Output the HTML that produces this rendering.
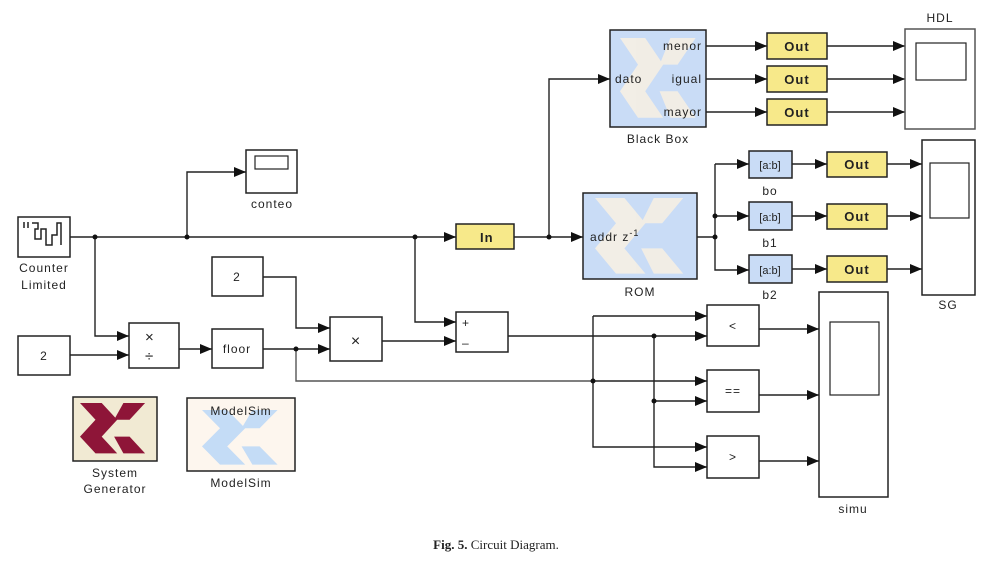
<!DOCTYPE html>
<html><head><meta charset="utf-8"><style>
html,body{margin:0;padding:0;background:#fff;}
svg{display:block}
text{font-family:"Liberation Sans",sans-serif;font-size:12px;fill:#222;letter-spacing:1px}
</style></head><body>
<svg width="992" height="570" viewBox="0 0 992 570" xmlns="http://www.w3.org/2000/svg">
<defs>
<marker id="a" markerWidth="12" markerHeight="10" refX="12" refY="5" orient="auto" markerUnits="userSpaceOnUse">
<path d="M0,0 L12,5 L0,10 Z" fill="#111"/></marker>
<g id="xl">
<polygon points="0,0 14,0 24,14 14,28 24,42 10,42 0,28 10,14" />
<polygon points="28,0 42,0 32,14 22,14" />
<polygon points="22,28 32,28 42,42 28,42" />
</g>
</defs>
<g fill="none" stroke="#222" stroke-width="1.4">
<line x1="70" y1="237" x2="456" y2="237" marker-end="url(#a)"/>
<polyline points="187,237 187,172 246,172" marker-end="url(#a)"/>
<polyline points="95,237 95,336 129,336" marker-end="url(#a)"/>
<line x1="70" y1="355" x2="129" y2="355" marker-end="url(#a)"/>
<line x1="179" y1="349" x2="212" y2="349" marker-end="url(#a)"/>
<polyline points="263,277 296,277 296,328 330,328" marker-end="url(#a)"/>
<line x1="263" y1="349" x2="330" y2="349" marker-end="url(#a)"/>
<polyline points="296,349 296,381 593,381" stroke="#555"/>
<polyline points="415,237 415,322 456,322" marker-end="url(#a)"/>
<line x1="382" y1="341" x2="456" y2="341" marker-end="url(#a)"/>
<line x1="508" y1="336" x2="707" y2="336" marker-end="url(#a)"/>
<polyline points="593,316 593,447 707,447" marker-end="url(#a)"/>
<line x1="593" y1="316" x2="707" y2="316" marker-end="url(#a)"/>
<line x1="593" y1="381" x2="707" y2="381" marker-end="url(#a)"/>
<polyline points="654,336 654,467 707,467" marker-end="url(#a)"/>
<line x1="654" y1="401" x2="707" y2="401" marker-end="url(#a)"/>
<line x1="759" y1="329" x2="819" y2="329" marker-end="url(#a)"/>
<line x1="759" y1="395" x2="819" y2="395" marker-end="url(#a)"/>
<line x1="759" y1="461" x2="819" y2="461" marker-end="url(#a)"/>
<line x1="514" y1="237" x2="583" y2="237" marker-end="url(#a)"/>
<polyline points="549,237 549,79 610,79" marker-end="url(#a)"/>
<line x1="706" y1="46" x2="767" y2="46" marker-end="url(#a)"/>
<line x1="706" y1="79" x2="767" y2="79" marker-end="url(#a)"/>
<line x1="706" y1="112" x2="767" y2="112" marker-end="url(#a)"/>
<line x1="827" y1="46" x2="905" y2="46" marker-end="url(#a)"/>
<line x1="827" y1="79" x2="905" y2="79" marker-end="url(#a)"/>
<line x1="827" y1="112" x2="905" y2="112" marker-end="url(#a)"/>
<line x1="697" y1="237" x2="715" y2="237"/>
<polyline points="715,164 715,270 749,270" marker-end="url(#a)"/>
<line x1="715" y1="164" x2="749" y2="164" marker-end="url(#a)"/>
<line x1="715" y1="216" x2="749" y2="216" marker-end="url(#a)"/>
<line x1="792" y1="164" x2="827" y2="164" marker-end="url(#a)"/>
<line x1="792" y1="216" x2="827" y2="216" marker-end="url(#a)"/>
<line x1="792" y1="269" x2="827" y2="269" marker-end="url(#a)"/>
<line x1="887" y1="164" x2="922" y2="164" marker-end="url(#a)"/>
<line x1="887" y1="216" x2="922" y2="216" marker-end="url(#a)"/>
<line x1="887" y1="269" x2="922" y2="269" marker-end="url(#a)"/>
</g>
<g fill="#111">
<circle cx="95" cy="237" r="2.5"/><circle cx="187" cy="237" r="2.5"/><circle cx="415" cy="237" r="2.5"/>
<circle cx="549" cy="237" r="2.5"/><circle cx="296" cy="349" r="2.5"/><circle cx="715" cy="237" r="2.5"/>
<circle cx="715" cy="216" r="2.5"/><circle cx="593" cy="381" r="2.5"/><circle cx="654" cy="336" r="2.5"/><circle cx="654" cy="401" r="2.5"/>
</g>
<g stroke="#222" stroke-width="1.5" fill="#fff">
<rect x="18" y="217" width="52" height="40"/>
<rect x="246" y="150" width="51" height="43"/>
<rect x="255" y="156" width="33" height="13" stroke-width="1.2"/>
<rect x="212" y="257" width="51" height="39"/>
<rect x="18" y="336" width="52" height="39"/>
<rect x="129" y="323" width="50" height="45"/>
<rect x="212" y="329" width="51" height="39"/>
<rect x="330" y="317" width="52" height="44"/>
<rect x="456" y="312" width="52" height="40"/>
<rect x="707" y="305" width="52" height="41"/>
<rect x="707" y="370" width="52" height="42"/>
<rect x="707" y="436" width="52" height="42"/>
<rect x="819" y="292" width="69" height="205"/>
<rect x="830" y="322" width="49" height="73" stroke-width="1.2"/>
<rect x="905" y="29" width="70" height="100" stroke="#555"/>
<rect x="916" y="43" width="50" height="37" stroke-width="1.2"/>
<rect x="922" y="140" width="53" height="155"/>
<rect x="930" y="163" width="39" height="55" stroke-width="1.2"/>
<rect x="73" y="397" width="84" height="64" fill="#f1ead3"/>
<rect x="187" y="398" width="108" height="73" fill="#fdf6ee"/>
<rect x="610" y="30" width="96" height="97" fill="#c9dcf6"/>
<rect x="583" y="193" width="114" height="86" fill="#c9dcf6"/>
<rect x="749" y="151" width="43" height="27" fill="#c9dcf6"/>
<rect x="749" y="202" width="43" height="28" fill="#c9dcf6"/>
<rect x="749" y="255" width="43" height="28" fill="#c9dcf6"/>
<rect x="456" y="224" width="58" height="25" fill="#f7e98a"/>
<rect x="767" y="33" width="60" height="26" fill="#f7e98a"/>
<rect x="767" y="66" width="60" height="26" fill="#f7e98a"/>
<rect x="767" y="99" width="60" height="26" fill="#f7e98a"/>
<rect x="827" y="152" width="60" height="25" fill="#f7e98a"/>
<rect x="827" y="204" width="60" height="25" fill="#f7e98a"/>
<rect x="827" y="256" width="60" height="26" fill="#f7e98a"/>
</g>
<use href="#xl" transform="translate(80,403) scale(1.55,1.2)" fill="#8e1538"/>
<use href="#xl" transform="translate(202,410) scale(1.8,1.3)" fill="#c4dcf6"/>
<use href="#xl" transform="translate(620,38) scale(1.8,1.9)" fill="#f6efe4" opacity="0.9"/>
<use href="#xl" transform="translate(595,198) scale(2.1,1.8)" fill="#f6efe4" opacity="0.9"/>
<path d="M24,222v6 M28,222v6 M32,223h6v6h-3v10h6v-10h5v16h6v-10h5v-12h4v22" stroke="#222" fill="none" stroke-width="1.5"/>
<text x="44" y="272" text-anchor="middle">Counter</text>
<text x="44" y="289" text-anchor="middle">Limited</text>
<text x="272" y="208" text-anchor="middle">conteo</text>
<text x="237" y="281" text-anchor="middle">2</text>
<text x="44" y="360" text-anchor="middle">2</text>
<text x="145" y="342" style="font-size:15px">×</text>
<text x="145" y="361" style="font-size:15px">÷</text>
<text x="237" y="353" text-anchor="middle">floor</text>
<text x="356" y="346" text-anchor="middle" style="font-size:16px">×</text>
<text x="462" y="327" style="font-size:12px">+</text>
<text x="462" y="347" style="font-size:12px">–</text>
<text x="733" y="330" text-anchor="middle">&lt;</text>
<text x="733" y="395" text-anchor="middle">==</text>
<text x="733" y="461" text-anchor="middle">&gt;</text>
<text x="853" y="513" text-anchor="middle">simu</text>
<text x="940" y="22" text-anchor="middle">HDL</text>
<text x="948" y="309" text-anchor="middle">SG</text>
<text x="115" y="477" text-anchor="middle">System</text>
<text x="115" y="493" text-anchor="middle">Generator</text>
<text x="241" y="415" text-anchor="middle">ModelSim</text>
<text x="241" y="487" text-anchor="middle">ModelSim</text>
<text x="658" y="143" text-anchor="middle">Black Box</text>
<text x="640" y="296" text-anchor="middle">ROM</text>
<text x="702" y="50" text-anchor="end">menor</text>
<text x="615" y="83">dato</text>
<text x="702" y="83" text-anchor="end">igual</text>
<text x="702" y="116" text-anchor="end">mayor</text>
<text x="590" y="241">addr z<tspan style="font-size:9px" dy="-5">-1</tspan></text>
<text x="480" y="242" style="font-weight:bold;font-size:13px">In</text>
<text x="797" y="51" text-anchor="middle" style="font-weight:bold;font-size:13px">Out</text>
<text x="797" y="84" text-anchor="middle" style="font-weight:bold;font-size:13px">Out</text>
<text x="797" y="117" text-anchor="middle" style="font-weight:bold;font-size:13px">Out</text>
<text x="857" y="169" text-anchor="middle" style="font-weight:bold;font-size:13px">Out</text>
<text x="857" y="221" text-anchor="middle" style="font-weight:bold;font-size:13px">Out</text>
<text x="857" y="274" text-anchor="middle" style="font-weight:bold;font-size:13px">Out</text>
<text x="770" y="169" text-anchor="middle" style="font-size:11px;letter-spacing:0">[a:b]</text>
<text x="770" y="221" text-anchor="middle" style="font-size:11px;letter-spacing:0">[a:b]</text>
<text x="770" y="274" text-anchor="middle" style="font-size:11px;letter-spacing:0">[a:b]</text>
<text x="770" y="195" text-anchor="middle">bo</text>
<text x="770" y="247" text-anchor="middle">b1</text>
<text x="770" y="299" text-anchor="middle">b2</text>
<text x="496" y="549" text-anchor="middle" style="font-family:'Liberation Serif',serif;font-size:13px;letter-spacing:0"><tspan font-weight="bold">Fig. 5.</tspan>  Circuit Diagram.</text>
</svg>
</body></html>
